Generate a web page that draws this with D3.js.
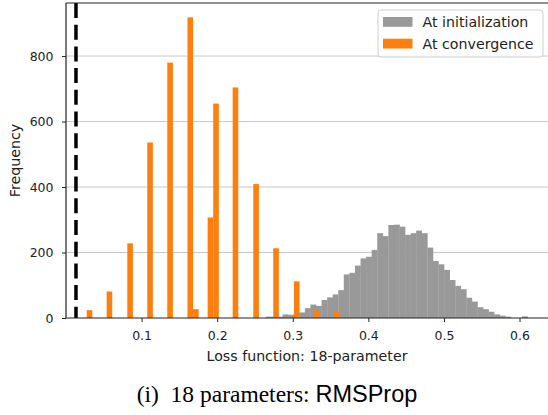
<!DOCTYPE html>
<html>
<head>
<meta charset="utf-8">
<script src="https://cdn.jsdelivr.net/npm/d3@7"></script>
<style>
  body { margin: 0; background: #fff; }
  svg { display: block; }
</style>
</head>
<body>
<svg id="chart" width="548" height="415"></svg>
<script>
// grey histogram: loss at initialization (bin left edges, counts)
const initBins = [0.2644, 0.2718, 0.2792, 0.2865, 0.2939, 0.3013, 0.3086, 0.3160, 0.3233, 0.3307,
  0.3381, 0.3455, 0.3528, 0.3602, 0.3675, 0.3749, 0.3823, 0.3897, 0.3970, 0.4044,
  0.4118, 0.4191, 0.4265, 0.4339, 0.4412, 0.4486, 0.4560, 0.4633, 0.4707, 0.4781,
  0.4854, 0.4928, 0.5002, 0.5075, 0.5149, 0.5223, 0.5296, 0.5370, 0.5444, 0.5517,
  0.5591, 0.5665, 0.5738, 0.5812, 0.5886, 0.5959, 0.6033]
const initCounts = [4, 4, 4, 11, 10, 14, 17, 30, 41, 37,
  55, 63, 72, 85, 133, 138, 160, 182, 187, 208,
  259, 250, 284, 285, 279, 254, 259, 267, 259, 215,
  174, 164, 147, 116, 98, 88, 62, 50, 33, 27,
  19, 11, 7, 4, 0, 0, 5]
const initBinWidth = 0.00737

// orange histogram: loss at convergence (non-empty bins only)
const convBins = [0.0274, 0.0538, 0.0811, 0.1075, 0.1340, 0.1607, 0.1681, 0.1874, 0.1948,
  0.2205, 0.2478, 0.2742, 0.3016, 0.3280, 0.3545]
const convCounts = [24, 81, 228, 536, 780, 918, 27, 307, 655, 704, 409, 213, 112, 23, 18]
const convBinWidth = 0.0074

const refLoss = 0.0132   // dashed vertical marker

const xTicks = [0.1, 0.2, 0.3, 0.4, 0.5, 0.6]
const yTicks = [0, 200, 400, 600, 800]
const legendLabels = ['At initialization', 'At convergence']

const greyColor = '#999999', orangeColor = '#ff7f0e'

let svg = d3.select('#chart')
let margin = {left: 66, right: -1, top: 3, bottom: 97}
let W = 548, H = 415

let x = d3.scaleLinear().domain([0, 0.639]).range([margin.left, W - margin.right])
let y = d3.scaleLinear().domain([0, 962]).range([H - margin.bottom, margin.top])

// grid
svg.append('g')
    .selectAll('line').data(yTicks.filter(d => d > 0)).enter().append('line')
    .attr('x1', margin.left).attr('x2', W)
    .attr('y1', d => y(d)).attr('y2', d => y(d))
    .attr('stroke', '#c8c8c8').attr('stroke-width', 1)

// bars
svg.append('g').selectAll('rect').data(initBins).enter().append('rect')
    .attr('x', d => x(d))
    .attr('width', x(initBinWidth) - x(0) + 0.3)
    .attr('y', (d, i) => y(initCounts[i]))
    .attr('height', (d, i) => y(0) - y(initCounts[i]))
    .attr('fill', greyColor)

svg.append('g').selectAll('rect').data(convBins).enter().append('rect')
    .attr('x', d => x(d))
    .attr('width', x(convBinWidth) - x(0))
    .attr('y', (d, i) => y(convCounts[i]))
    .attr('height', (d, i) => y(0) - y(convCounts[i]))
    .attr('fill', orangeColor)

// dashed marker
svg.append('line')
    .attr('x1', x(refLoss)).attr('x2', x(refLoss))
    .attr('y1', y.range()[1]).attr('y2', y(0))
    .attr('stroke', '#000').attr('stroke-width', 3.5)
    .attr('stroke-dasharray', '15,6.7')

// axes
let xAxis = svg.append('g')
    .attr('transform', `translate(0,${y(0)})`)
    .call(d3.axisBottom(x).tickValues(xTicks).tickFormat(d3.format('.1f')).tickSize(4).tickPadding(9))
let yAxis = svg.append('g')
    .attr('transform', `translate(${margin.left},0)`)
    .call(d3.axisLeft(y).tickValues(yTicks).tickSize(4).tickPadding(8.5))

;[xAxis, yAxis].forEach(a => {
    a.select('.domain').remove()
    a.selectAll('text').attr('font-family', 'DejaVu Sans').attr('font-size', 12.5).attr('fill', '#222')
    a.selectAll('line').attr('stroke', '#222')
})

// spines
svg.append('line').attr('x1', margin.left).attr('x2', W).attr('y1', y(0)).attr('y2', y(0))
    .attr('stroke', '#222').attr('stroke-width', 1.2)
svg.append('line').attr('x1', margin.left).attr('x2', W).attr('y1', margin.top).attr('y2', margin.top)
    .attr('stroke', '#222').attr('stroke-width', 1.2)
svg.append('line').attr('x1', margin.left).attr('x2', margin.left).attr('y1', margin.top).attr('y2', y(0))
    .attr('stroke', '#222').attr('stroke-width', 1.2)

// labels
svg.append('text')
    .attr('x', (margin.left + W) / 2).attr('y', 361)
    .attr('text-anchor', 'middle')
    .attr('font-family', 'DejaVu Sans').attr('font-size', 14.2).attr('fill', '#222')
    .text('Loss function: 18-parameter')

svg.append('text')
    .attr('transform', `translate(20,${(margin.top + y(0)) / 2}) rotate(-90)`)
    .attr('text-anchor', 'middle')
    .attr('font-family', 'DejaVu Sans').attr('font-size', 14.2).attr('fill', '#222')
    .text('Frequency')

// legend
let lg = svg.append('g').attr('transform', 'translate(378,10)')
lg.append('rect')
    .attr('width', 165).attr('height', 47).attr('rx', 3)
    .attr('fill', 'rgba(255,255,255,0.8)').attr('stroke', '#d0d0d0')
legendLabels.forEach((lab, i) => {
    lg.append('rect')
        .attr('x', 5).attr('y', 7 + i * 21.7).attr('width', 29.5).attr('height', 9.8)
        .attr('fill', i === 0 ? greyColor : orangeColor)
    lg.append('text')
        .attr('x', 44.5).attr('y', 17 + i * 21.7)
        .attr('font-family', 'DejaVu Sans').attr('font-size', 14.2).attr('fill', '#222')
        .text(lab)
})

// caption
let cap = svg.append('text')
    .attr('x', 277).attr('y', 402)
    .attr('text-anchor', 'middle')
    .attr('font-size', 23.5).attr('fill', '#000')
cap.append('tspan').attr('font-family', 'Liberation Serif').text('(i)\u00a0 18 parameters: ')
cap.append('tspan').attr('font-family', 'Liberation Sans').text('RMSProp')
</script>
</body>
</html>
